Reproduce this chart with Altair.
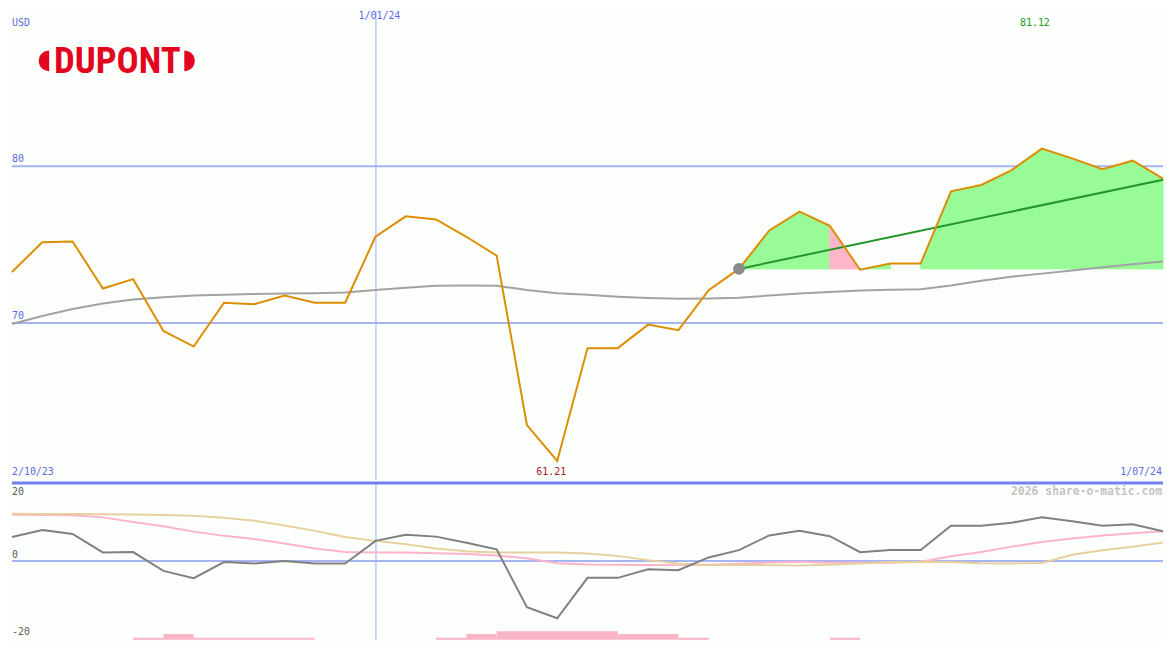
import altair as alt
import pandas as pd

# ---------------- data ----------------
idx = list(range(39))  # weekly points
price = [73.25, 75.15, 75.2, 72.2, 72.8, 69.5, 68.5, 71.3, 71.2, 71.75, 71.3, 71.3,
         75.5, 76.8, 76.6, 75.5, 74.3, 63.5, 61.21, 68.4, 68.4, 69.9, 69.55, 72.1,
         73.45, 75.9, 77.1, 76.2, 73.4, 73.8, 73.8, 78.4, 78.8, 79.75, 81.12, 80.5,
         79.8, 80.35, 79.2]
ma = [69.94, 70.45, 70.9, 71.25, 71.5, 71.65, 71.75, 71.8, 71.85, 71.88, 71.9, 71.95,
      72.1, 72.25, 72.38, 72.4, 72.38, 72.1, 71.9, 71.8, 71.68, 71.6, 71.55, 71.57,
      71.62, 71.75, 71.88, 71.98, 72.08, 72.12, 72.15, 72.4, 72.7, 72.95, 73.15, 73.35,
      73.55, 73.75, 73.93]
osc = [6.2, 8.0, 7.0, 2.2, 2.3, -2.6, -4.5, -0.3, -0.7, 0.0, -0.7, -0.7,
       5.2, 6.8, 6.3, 4.7, 3.0, -12.0, -14.9, -4.4, -4.4, -2.2, -2.4, 0.9,
       2.8, 6.6, 7.8, 6.4, 2.25, 2.8, 2.8, 9.1, 9.1, 9.9, 11.3, 10.3,
       9.1, 9.5, 7.7]
tan = [12.25, 12.2, 12.15, 12.1, 12.05, 11.9, 11.75, 11.2, 10.4, 9.2, 7.8, 6.2,
       5.2, 4.35, 3.2, 2.5, 2.2, 2.2, 2.15, 1.9, 1.3, 0.2, -0.7, -1.1,
       -1.0, -1.1, -1.2, -1.0, -0.7, -0.3, -0.2, -0.3, -0.6, -0.65, -0.55, 1.6,
       2.75, 3.7, 4.8]
pink = [11.95, 11.9, 11.85, 11.3, 10.1, 9.0, 7.6, 6.5, 5.7, 4.5, 3.2, 2.3,
        2.2, 2.2, 2.0, 1.8, 1.4, 0.7, -0.6, -0.95, -1.0, -1.05, -1.1, -1.0,
        -0.75, -0.4, -0.25, -0.5, -0.5, -0.5, -0.2, 1.2, 2.3, 3.7, 4.9, 5.8,
        6.6, 7.2, 7.7]
base_index = 24
trend_x = [24, 38]
trend_y = [73.45, 79.14]
# fill colour of each segment from base_index onward ("" = no fill)
fill_colors = ["#98fb98", "#98fb98", "#98fb98", "#ffb6c8", "#98fb98", "",
               "#98fb98", "#98fb98", "#98fb98", "#98fb98", "#98fb98", "#98fb98",
               "#98fb98", "#98fb98"]
vol_start = [4, 5, 6, 14, 15, 16, 20, 22, 27]
vol_end = [5, 6, 10, 15, 16, 20, 22, 23, 28]
vol_h = [0.55, 1.5, 0.55, 0.55, 1.5, 2.25, 1.5, 0.55, 0.55]
grid_top = [80, 70]
grid_top_labels = ["80", "70"]
vline_index = 12
max_index, min_index = 34, 18

# ---------------- layout ----------------
W = 1159
H_TOP = 472
H_BOT = 158
TOP_DOM = [60, 89.88]
BOT_DOM = [-20.5, 20.25]
BG = "#fdfffd"
GRID = "#a6b4f4"
VGRID = "#9aabf6"
LBL = "#5a6ae6"
MONO = "DejaVu Sans Mono"

df = pd.DataFrame({"i": idx, "price": price, "ma": ma, "osc": osc, "tan": tan, "pink": pink})

xs = alt.Scale(domain=[0, 38], nice=False, zero=False)
X = alt.X("i:Q", scale=xs, axis=None)
yt = alt.Scale(domain=TOP_DOM, nice=False, zero=False)
yb = alt.Scale(domain=BOT_DOM, nice=False, zero=False)

# ---- top panel ----
gdf = pd.DataFrame({"v": grid_top, "t": grid_top_labels})
grid = alt.Chart(gdf).mark_rule(color=GRID, strokeWidth=2).encode(
    y=alt.Y("v:Q", scale=yt, axis=None))
grid_lbl = alt.Chart(gdf).mark_text(font=MONO, fontSize=10, color=LBL, align="left",
                                    baseline="bottom", dy=-2).encode(
    x=alt.value(0), y=alt.Y("v:Q", scale=yt, axis=None), text="t:N")

vdf = pd.DataFrame({"i": [vline_index]})
vrule_top = alt.Chart(vdf).mark_rule(color=VGRID, strokeWidth=1, xOffset=0.5).encode(x=X)

rows = []
base = price[base_index]
for k, c in enumerate(fill_colors):
    s = base_index + k
    if c:
        for j in (s, s + 1):
            rows.append({"i": j, "p": price[j], "b": base, "seg": s, "c": c})
area = alt.Chart(pd.DataFrame(rows)).mark_area(opacity=1, interpolate="linear",
                                               strokeWidth=1).encode(
    x=X, y=alt.Y("p:Q", scale=yt, axis=None), y2="b:Q",
    color=alt.Color("c:N", scale=None), stroke=alt.Stroke("c:N", scale=None),
    detail="seg:N")

ma_line = alt.Chart(df).mark_line(color="#a2a2a2", strokeWidth=2).encode(
    x=X, y=alt.Y("ma:Q", scale=yt, axis=None))
tdf = pd.DataFrame({"i": trend_x, "v": trend_y})
trend = alt.Chart(tdf).mark_line(color="#22962a", strokeWidth=2).encode(
    x=X, y=alt.Y("v:Q", scale=yt, axis=None))
price_line = alt.Chart(df).mark_line(color="#dc8e00", strokeWidth=2).encode(
    x=X, y=alt.Y("price:Q", scale=yt, axis=None))
mdf = pd.DataFrame({"i": [base_index], "v": [base]})
marker = alt.Chart(mdf).mark_point(filled=True, size=140, color="#8a8a8a", opacity=1).encode(
    x=X, y=alt.Y("v:Q", scale=yt, axis=None))

usd = alt.Chart(pd.DataFrame({"t": ["USD"]})).mark_text(
    font=MONO, fontSize=10, color=LBL, align="left", baseline="middle").encode(
    x=alt.value(0), y=alt.value(12), text="t:N")
date_top = alt.Chart(pd.DataFrame({"i": [vline_index], "t": ["1/01/24"]})).mark_text(
    font=MONO, fontSize=10, color=LBL, align="center", baseline="middle", dx=4).encode(
    x=X, y=alt.value(5), text="t:N")
hi = alt.Chart(pd.DataFrame({"i": [max_index], "t": [f"{price[max_index]:.2f}"]})).mark_text(
    font=MONO, fontSize=10, color="#1f9a1f", align="center", baseline="middle", dx=-7).encode(
    x=X, y=alt.value(12), text="t:N")
lo = alt.Chart(pd.DataFrame({"i": [min_index], "t": [f"{price[min_index]:.2f}"]})).mark_text(
    font=MONO, fontSize=10, color="#a81818", align="center", baseline="middle", dx=-6).encode(
    x=X, y=alt.value(464.3), text="t:N")
d_start = alt.Chart(pd.DataFrame({"t": ["2/10/23"]})).mark_text(
    font=MONO, fontSize=10, color=LBL, align="left", baseline="middle").encode(
    x=alt.value(0), y=alt.value(464.3), text="t:N")
d_end = alt.Chart(pd.DataFrame({"t": ["1/07/24"]})).mark_text(
    font=MONO, fontSize=10, color=LBL, align="right", baseline="middle").encode(
    x=alt.value(1158), y=alt.value(464.3), text="t:N")

LOGO_RED = "#e2061e"
logo_txt = alt.Chart(pd.DataFrame({"t": ["DUPONT"]})).mark_text(
    font="Roboto Condensed, DejaVu Sans Condensed, Liberation Sans, sans-serif",
    fontWeight="bold", fontSize=37, color=LOGO_RED,
    align="center", baseline="middle").encode(
    x=alt.value(106), y=alt.value(51), text="t:N")
cap_l = alt.Chart(pd.DataFrame({"t": ["l"]})).mark_point(
    shape="M 1 -1 C 0.3 -0.95 0 -0.5 0 0 C 0 0.5 0.3 0.95 1 1 Z",
    filled=True, size=441, color=LOGO_RED, opacity=1, strokeWidth=0).encode(
    x=alt.value(27), y=alt.value(50))
cap_r = alt.Chart(pd.DataFrame({"t": ["r"]})).mark_point(
    shape="M -1 -1 C -0.3 -0.95 0 -0.5 0 0 C 0 0.5 -0.3 0.95 -1 1 Z",
    filled=True, size=441, color=LOGO_RED, opacity=1, strokeWidth=0).encode(
    x=alt.value(184), y=alt.value(50))

top = alt.layer(grid, vrule_top, area, ma_line, trend, price_line, marker, grid_lbl,
                usd, date_top, hi, lo, d_start, d_end, logo_txt, cap_l, cap_r
                ).properties(width=W, height=H_TOP)

# ---- bottom panel ----
zero = alt.Chart(pd.DataFrame({"v": [0]})).mark_rule(color=GRID, strokeWidth=2).encode(
    y=alt.Y("v:Q", scale=yb, axis=None))
sep = alt.Chart(pd.DataFrame({"v": [BOT_DOM[1]]})).mark_rule(color="#7282ec", strokeWidth=3).encode(
    y=alt.Y("v:Q", scale=yb, axis=None))
vrule_bot = alt.Chart(vdf).mark_rule(color=VGRID, strokeWidth=1, xOffset=0.5).encode(x=X)
voldf = pd.DataFrame({"s": vol_start, "e": vol_end,
                      "b0": [BOT_DOM[0]] * len(vol_h),
                      "top": [BOT_DOM[0] + h for h in vol_h]})
vol = alt.Chart(voldf).mark_rect(color="#fab4c8").encode(
    x=alt.X("s:Q", scale=xs, axis=None), x2="e:Q",
    y=alt.Y("b0:Q", scale=yb, axis=None), y2="top:Q")
pink_line = alt.Chart(df).mark_line(color="#fdb4c8", strokeWidth=2).encode(
    x=X, y=alt.Y("pink:Q", scale=yb, axis=None))
tan_line = alt.Chart(df).mark_line(color="#e6d09e", strokeWidth=2).encode(
    x=X, y=alt.Y("tan:Q", scale=yb, axis=None))
osc_line = alt.Chart(df).mark_line(color="#808080", strokeWidth=2).encode(
    x=X, y=alt.Y("osc:Q", scale=yb, axis=None))
bl = pd.DataFrame({"v": [0, -20], "t": ["0", "-20"]})
bot_lbl = alt.Chart(bl).mark_text(font=MONO, fontSize=10, color="#5a5a5a", align="left",
                                  baseline="bottom", dy=-1).encode(
    x=alt.value(0), y=alt.Y("v:Q", scale=yb, axis=None), text="t:N")
lbl20 = alt.Chart(pd.DataFrame({"t": ["20"]})).mark_text(
    font=MONO, fontSize=10, color="#5a5a5a", align="left", baseline="middle").encode(
    x=alt.value(0), y=alt.value(8.7), text="t:N")
wm = alt.Chart(pd.DataFrame({"t": ["2026 share-o-matic.com"]})).mark_text(
    font=MONO, fontSize=11.5, fontWeight="bold", color="#c4c4c4", align="right",
    baseline="middle").encode(x=alt.value(1158), y=alt.value(8.7), text="t:N")

bottom = alt.layer(zero, vrule_bot, vol, pink_line, tan_line, osc_line, sep,
                   bot_lbl, lbl20, wm).properties(width=W, height=H_BOT)

chart = alt.vconcat(top, bottom, spacing=0).properties(
    padding=0, background=BG
).configure_view(stroke=None).configure_concat(spacing=0)

chart.save("out.html", embed_options={"renderer": "svg", "actions": False})
